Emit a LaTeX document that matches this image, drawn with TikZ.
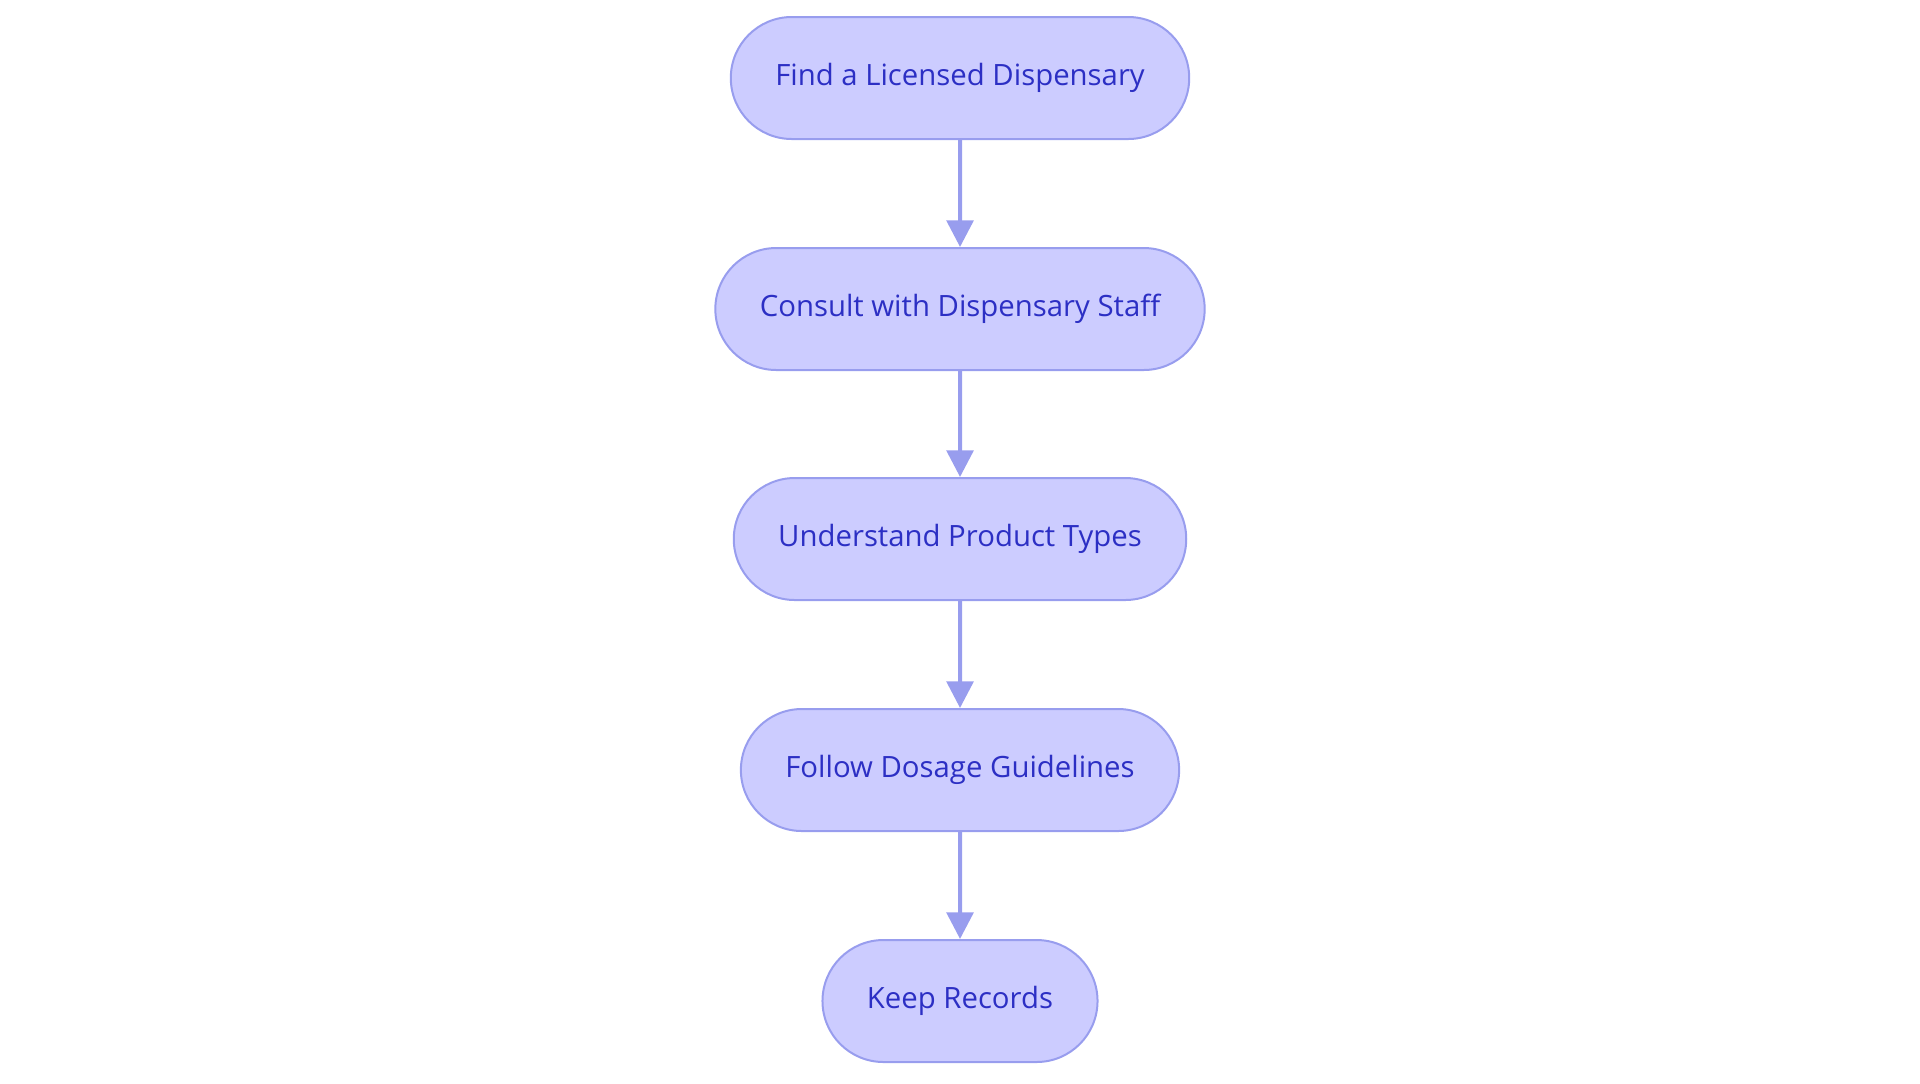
\documentclass[tikz,border=0pt]{standalone}
\usepackage{fontspec}
\setmainfont{Open Sans}
\usetikzlibrary{arrows.meta,shapes.misc}

\definecolor{stepfill}{RGB}{204,204,255}
\definecolor{stepline}{RGB}{152,157,238}
\definecolor{steptext}{RGB}{44,47,196}

\tikzset{every picture/.style={line width=0.75pt}}
\tikzset{
  stepbox/.style={rounded rectangle, draw=stepline, fill=stepfill, line width=1.5pt,
    minimum height=91.5pt, inner xsep=32pt, text=steptext,
    font=\fontsize{22}{26}\selectfont},
  flow/.style={draw=stepline, line width=3pt, -{Triangle[length=20pt,width=20pt]}}
}

\begin{document}
\begin{tikzpicture}[x=0.75pt,y=0.75pt,yscale=-1,xscale=1]
\useasboundingbox (0,0) rectangle (1920,1083);

% Step Nodes
\draw (960,78) node [stepbox] (find) {Find a Licensed Dispensary};
\draw (960,309) node [stepbox] (consult) {Consult with Dispensary Staff};
\draw (960,539) node [stepbox] (understand) {Understand Product Types};
\draw (960,770) node [stepbox] (follow) {Follow Dosage Guidelines};
\draw (960,1001) node [stepbox] (keep) {Keep Records};

% Arrows
\draw [flow] (find) -- (consult);
\draw [flow] (consult) -- (understand);
\draw [flow] (understand) -- (follow);
\draw [flow] (follow) -- (keep);

\end{tikzpicture}
\end{document}
